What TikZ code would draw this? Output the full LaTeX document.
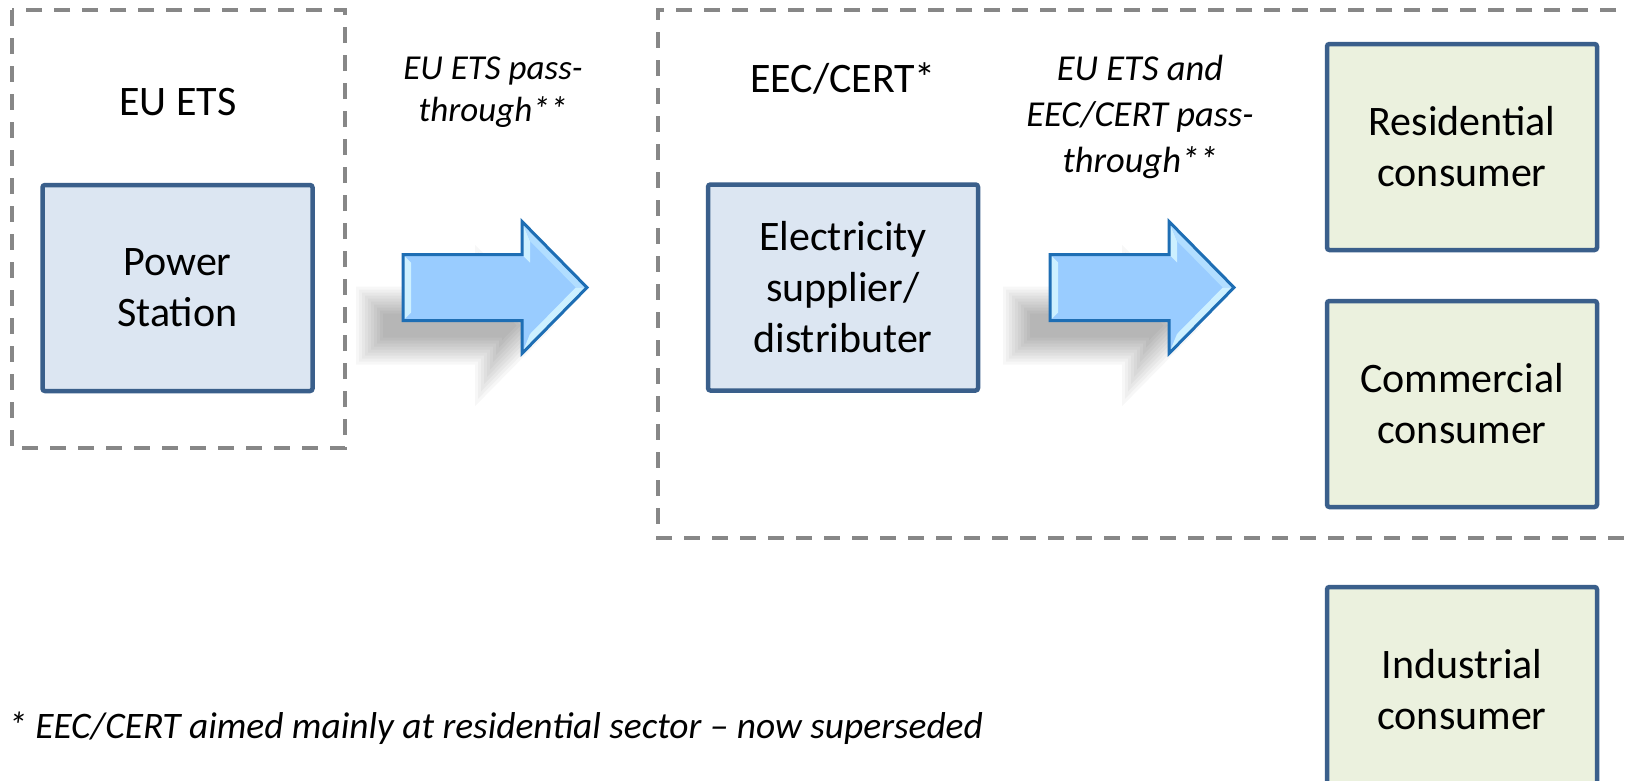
\documentclass[tikz,border=0pt]{standalone}
\usepackage{fontspec}
\setmainfont{Carlito}
\definecolor{boxline}{RGB}{58,95,139}
\definecolor{bluefill}{RGB}{220,230,242}
\definecolor{greenfill}{RGB}{235,241,222}
\definecolor{framegray}{RGB}{135,135,135}
\definecolor{arrowfill}{RGB}{153,204,255}
\definecolor{arrowline}{RGB}{30,110,180}
\definecolor{bevellight}{RGB}{205,240,255}
\definecolor{bevelmid}{RGB}{178,222,255}

% outline of the block arrow, origin at the middle of its tail
\newcommand\arrowoutline{(0,-33) -- (119,-33) -- (119,-66) -- (184,0) -- (119,66) -- (119,33) -- (0,33) -- cycle}
% the same outline moved inwards by #1 (outwards when negative)
\newcommand\arrowinset[1]{({#1},{-33+#1}) -- ({119+#1},{-33+#1}) -- ({119+#1},{-66+2.44*#1}) -- ({184-1.403*#1},0) -- ({119+#1},{66-2.44*#1}) -- ({119+#1},{33-#1}) -- ({#1},{33-#1}) -- cycle}

\tikzset{
  unitbox/.style={draw=boxline, line width=4.5pt, rounded corners=2.5pt,
    minimum width=270pt, minimum height=206pt, inner sep=0pt,
    align=center, font=\fontsize{42}{51}\selectfont},
  supplybox/.style={unitbox, fill=bluefill},
  consumerbox/.style={unitbox, fill=greenfill},
  groupframe/.style={draw=framegray, line width=4pt, dash pattern=on 16pt off 12pt},
  grouptitle/.style={font=\fontsize{42}{51}\selectfont, inner sep=0pt},
  flowlabel/.style={font=\fontsize{35}{42}\selectfont\itshape, align=center, inner sep=0pt},
  widelabel/.style={font=\fontsize{36.5}{46}\selectfont\itshape, align=center, inner sep=0pt},
  notetext/.style={font=\fontsize{37.4}{44}\selectfont\itshape, inner sep=0pt},
  blockarrow/.pic={
    % soft drop shadow built from stacked insets
    \begin{scope}[shift={(-41,38)}]
      \foreach \t in {-6,-3,...,21}
        \fill[black, opacity=0.03] \arrowinset{\t};
    \end{scope}
    % body with bevelled edges
    \fill[arrowfill] \arrowoutline;
    \fill[bevellight] (0,-33) -- (8,-25) -- (8,25) -- (0,33) -- cycle;
    \fill[bevellight] (119,-33) -- (119,-66) -- (127,-46.5) -- (127,-25) -- cycle;
    \fill[bevelmid] (119,-66) -- (184,0) -- (172.8,0) -- (127,-46.5) -- cycle;
    \fill[bevellight] (184,0) -- (119,66) -- (127,46.5) -- (172.8,0) -- cycle;
    \draw[arrowline, line width=3pt, line join=miter] \arrowoutline;
  }
}

\begin{document}
\begin{tikzpicture}[x=1pt, y=-1pt]
  \clip (0,0) rectangle (1625,780);
  \fill[white] (0,0) rectangle (1625,780);

  % group frames
  \draw[groupframe] (12,10) rectangle (345,448);
  \draw[groupframe] (1700,10) -- (658,10) -- (658,538) -- (1700,538);

  % group titles
  \node[grouptitle, anchor=base] (ets) at (178,115) {EU ETS};
  \node[grouptitle, anchor=base] (eec) at (843,92) {EEC/CERT*};

  % boxes
  \node[supplybox] (power) at (177.5,288) {Power\\Station};
  \node[supplybox] (supplier) at (843,287.5) {Electricity\\supplier/\\distributer};
  \node[consumerbox] (res) at (1462,147) {Residential\\consumer};
  \node[consumerbox] (com) at (1462,404) {Commercial\\consumer};
  \node[consumerbox] (ind) at (1462,690) {Industrial\\consumer};

  % pass-through arrows
  \pic at (403,287.5) {blockarrow};
  \pic at (1050,287.5) {blockarrow};

  % arrow labels (anchored on the baseline of their last line)
  \node[flowlabel, anchor=base] (lab1) at (493,121) {EU ETS pass-\\through**};
  \node[widelabel, anchor=base] (lab2) at (1140,172) {EU ETS and\\EEC/CERT pass-\\through**};

  % footnote
  \node[notetext, anchor=base west] (note) at (8,738) {* EEC/CERT aimed mainly at residential sector – now superseded};
\end{tikzpicture}
\end{document}
